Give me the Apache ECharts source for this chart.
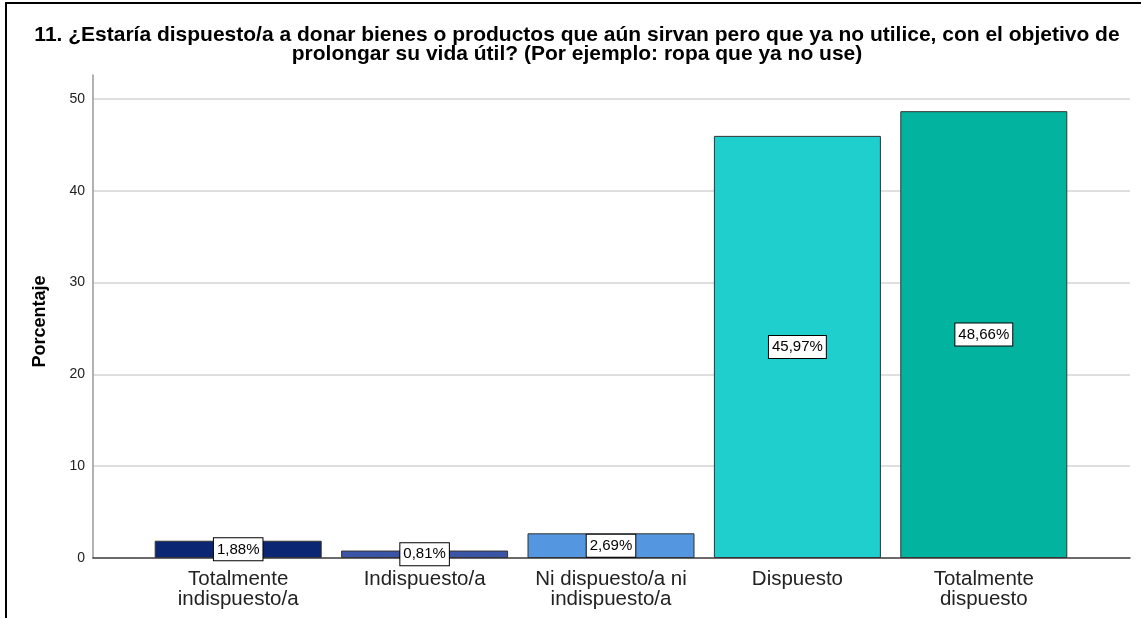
<!DOCTYPE html>
<html>
<head>
<meta charset="utf-8">
<script src="https://cdn.jsdelivr.net/npm/echarts@6/dist/echarts.min.js"></script>
<style>
  html, body { margin: 0; padding: 0; background: #fff; }
  #chart { width: 1141px; height: 618px; }
</style>
</head>
<body>
<div id="chart"></div>
<script>
const titleText = '11. ¿Estaría dispuesto/a a donar bienes o productos que aún sirvan pero que ya no utilice, con el objetivo de\nprolongar su vida útil? (Por ejemplo: ropa que ya no use)'
const categories = ['Totalmente\nindispuesto/a', 'Indispuesto/a', 'Ni dispuesto/a ni\nindispuesto/a', 'Dispuesto', 'Totalmente\ndispuesto']
const percentages = [1.88, 0.81, 2.69, 45.97, 48.66]
const barColors = ['#0b2672', '#3a55a6', '#5496e0', '#1ecfcd', '#02b4a0']
const yMin = 0
const yMax = 52.6
const yStep = 10

const font = 'Liberation Sans, Arial, sans-serif'
let chart = echarts.init(document.getElementById('chart'))

chart.setOption({
  animation: false,
  title: {
    text: titleText,
    left: 572,
    top: 21,
    textAlign: 'center',
    textStyle: {
      fontFamily: font,
      fontSize: 21,
      fontWeight: 'bold',
      color: '#000',
      lineHeight: 19
    }
  },
  graphic: [
    // marco del gráfico
    {
      type: 'polyline',
      shape: { points: [[6, 618], [6, 3], [1141, 3]] },
      style: { stroke: '#000', lineWidth: 2, fill: null }
    }
  ],
  grid: [
    { left: 93, right: 11, top: 75, bottom: 60 },
    { left: 145, right: 64, top: 75, bottom: 60 }
  ],
  xAxis: [
    {
      gridIndex: 0,
      type: 'value',
      min: 0,
      max: 1,
      axisLine: { show: true, lineStyle: { color: '#444', width: 1.5 } },
      axisTick: { show: false },
      axisLabel: { show: false },
      splitLine: { show: false }
    },
    {
      gridIndex: 1,
      type: 'category',
      data: categories,
      axisLine: { show: false },
      axisTick: { show: false },
      axisLabel: {
        margin: 11,
        fontFamily: font,
        fontSize: 20.5,
        lineHeight: 20,
        color: '#222',
        interval: 0
      }
    }
  ],
  yAxis: [
    {
      gridIndex: 0,
      type: 'value',
      min: yMin,
      max: yMax,
      interval: yStep,
      name: 'Porcentaje',
      nameLocation: 'middle',
      nameGap: 44,
      nameTextStyle: {
        fontFamily: font,
        fontSize: 18,
        fontWeight: 'bold',
        color: '#000',
        padding: [0, 10, 0, 0]
      },
      axisLine: { show: true, lineStyle: { color: '#999', width: 1.5 } },
      axisTick: { show: false },
      axisLabel: {
        showMaxLabel: false,
        margin: 8,
        fontFamily: font,
        fontSize: 14,
        color: '#222'
      },
      splitLine: {
        show: true,
        showMaxLine: false,
        lineStyle: { color: '#d4d4d4', width: 1.5 }
      }
    },
    {
      gridIndex: 1,
      type: 'value',
      min: yMin,
      max: yMax,
      interval: yStep,
      show: false,
      splitLine: { show: false }
    }
  ],
  series: [
    {
      type: 'bar',
      xAxisIndex: 1,
      yAxisIndex: 1,
      barWidth: 167,
      data: percentages.map((v, i) => ({
        value: v,
        itemStyle: { color: barColors[i] }
      })),
      itemStyle: {
        borderColor: '#333',
        borderWidth: 1
      },
      label: {
        show: true,
        position: 'inside',
        formatter: (p) => p.value.toFixed(2).replace('.', ',') + '%',
        fontFamily: font,
        fontSize: 15,
        color: '#000',
        backgroundColor: '#fff',
        borderColor: '#000',
        borderWidth: 1,
        padding: [4, 3, 3, 3]
      }
    }
  ]
})
</script>
</body>
</html>
